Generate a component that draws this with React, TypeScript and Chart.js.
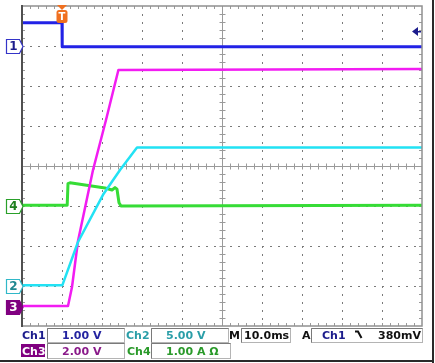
import React, { useEffect, useRef } from "react";
import { Chart, registerables } from "chart.js";
Chart.register(...registerables);

// Horizontal: 10 ms/div, trigger at 1 div from left (t = 0 ms)
const timePerDivMs = 10;
const triggerDiv = 1;
const xDivs = 10;
const yDivs = 8;

// Channel settings: volts (or amps) per division, ground marker position (div from bottom)
const ch1Scale = 1.0;
const ch2Scale = 5.0;
const ch3Scale = 2.0;
const ch4Scale = 1.0;
const ch1Ground = 7.0;
const ch2Ground = 1.0;
const ch3Ground = 0.475;
const ch4Ground = 3.0;

// Ch1 (blue) V
const ch1Time = [-10, 0, 0.05, 90];
const ch1Volts = [0.58, 0.58, -0.02, -0.02];

// Ch2 (cyan) V
const ch2Time = [-10, 0.1, 4, 10.25, 14.5, 18.75, 90];
const ch2Volts = [0.1, 0.1, 5.5, 11.4, 14.5, 17.3, 17.3];

// Ch3 (magenta) V
const ch3Time = [-10, 1.5, 2.5, 4, 7.75, 11, 14.1, 90];
const ch3Volts = [0.05, 0.05, 1.0, 3.3, 6.85, 9.35, 11.85, 11.9];

// Ch4 (green) A
const ch4Time = [-10, 1.3, 1.5, 2, 10.75, 12.5, 13.25, 13.75, 14.25, 14.75, 90];
const ch4Amps = [0.02, 0.02, 0.56, 0.58, 0.45, 0.4, 0.46, 0.42, 0.08, 0.0, 0.02];

const toPoints = (t: number[], v: number[], scale: number, ground: number) =>
  t.map((ti, i) => ({ x: ti / timePerDivMs + triggerDiv, y: ground + v[i] / scale }));

const FONT = "'DejaVu Sans', Verdana, sans-serif";

const scopePlugin = {
  id: "scope",
  beforeDraw(chart: any) {
    const { ctx, width, height } = chart;
    ctx.save();
    ctx.fillStyle = "#ffffff";
    ctx.fillRect(0, 0, width, height);
    ctx.restore();
  },
  beforeDatasetsDraw(chart: any) {
    const { ctx, chartArea: a } = chart;
    const dx = (a.right - a.left) / xDivs;
    const dy = (a.bottom - a.top) / yDivs;
    const step = dx / 5;
    ctx.save();
    // dotted grid
    ctx.fillStyle = "#7a7a7a";
    for (let k = 1; k < xDivs; k++) {
      if (k === xDivs / 2) continue;
      const x = Math.round(a.left + k * dx);
      for (let y = a.top + step; y < a.bottom - 1; y += step) ctx.fillRect(x, Math.round(y), 1, 2);
    }
    for (let k = 1; k < yDivs; k++) {
      if (k === yDivs / 2) continue;
      const y = Math.round(a.top + k * dy);
      for (let x = a.left + step; x < a.right - 1; x += step) ctx.fillRect(Math.round(x), y, 2, 1);
    }
    // center cross
    ctx.strokeStyle = "#9a9a9a";
    ctx.lineWidth = 1;
    const cx = Math.round(a.left + (xDivs / 2) * dx) + 0.5;
    const cy = Math.round(a.top + (yDivs / 2) * dy) + 0.5;
    ctx.beginPath();
    ctx.moveTo(cx, a.top);
    ctx.lineTo(cx, a.bottom);
    ctx.moveTo(a.left, cy);
    ctx.lineTo(a.right, cy);
    for (let x = a.left + step; x < a.right - 1; x += step) {
      const xx = Math.round(x) + 0.5;
      ctx.moveTo(xx, cy - 3);
      ctx.lineTo(xx, cy + 3);
    }
    for (let y = a.top + step; y < a.bottom - 1; y += step) {
      const yy = Math.round(y) + 0.5;
      ctx.moveTo(cx - 3, yy);
      ctx.lineTo(cx + 3, yy);
    }
    // edge ticks
    for (let x = a.left + step; x < a.right - 1; x += step) {
      const xx = Math.round(x) + 0.5;
      ctx.moveTo(xx, a.top);
      ctx.lineTo(xx, a.top + 3);
      ctx.moveTo(xx, a.bottom);
      ctx.lineTo(xx, a.bottom - 3);
    }
    for (let y = a.top + step; y < a.bottom - 1; y += step) {
      const yy = Math.round(y) + 0.5;
      ctx.moveTo(a.left, yy);
      ctx.lineTo(a.left + 3, yy);
      ctx.moveTo(a.right, yy);
      ctx.lineTo(a.right - 3, yy);
    }
    ctx.stroke();
    ctx.restore();
  },
  afterDatasetsDraw(chart: any) {
    const { ctx, chartArea: a, scales } = chart;
    const ys = scales.y;
    const xs = scales.x;
    ctx.save();
    // plot border
    ctx.strokeStyle = "#909090";
    ctx.lineWidth = 1.5;
    ctx.strokeRect(a.left, a.top, a.right - a.left, a.bottom - a.top);
    ctx.fillStyle = "#505050";
    ctx.fillRect(a.left - 1, a.top - 1, 2, a.bottom - a.top + 2);

    // outer shadow frame
    ctx.fillStyle = "#2a2a2a";
    ctx.fillRect(432, 0, 2, 363);
    ctx.fillRect(0, 360, 434, 2);

    // channel ground tags
    const tag = (yv: number, label: string, stroke: string, fill: string, txt: string) => {
      const y = Math.round(ys.getPixelForValue(yv)) + 0.5;
      ctx.beginPath();
      ctx.moveTo(6.5, y - 7);
      ctx.lineTo(19.5, y - 7);
      ctx.lineTo(23, y);
      ctx.lineTo(19.5, y + 7);
      ctx.lineTo(6.5, y + 7);
      ctx.closePath();
      ctx.fillStyle = fill;
      ctx.fill();
      ctx.strokeStyle = stroke;
      ctx.lineWidth = 1.2;
      ctx.stroke();
      ctx.fillStyle = txt;
      ctx.font = `bold 12px ${FONT}`;
      ctx.textAlign = "center";
      ctx.textBaseline = "middle";
      ctx.fillText(label, 13.5, y + 0.5);
    };
    tag(ch1Ground, "1", "#3434c8", "#ffffff", "#1c1c8c");
    tag(ch4Ground, "4", "#2aa02a", "#ffffff", "#1f801f");
    tag(ch2Ground, "2", "#30b8c8", "#ffffff", "#208890");
    tag(ch3Ground, "3", "#800080", "#800080", "#ffffff");

    // trigger position marker
    const tx = xs.getPixelForValue(triggerDiv);
    ctx.fillStyle = "#f07020";
    ctx.beginPath();
    ctx.moveTo(tx - 5, 5);
    ctx.lineTo(tx + 5, 5);
    ctx.lineTo(tx, 10);
    ctx.closePath();
    ctx.fill();
    ctx.beginPath();
    const rx = tx - 5.5, ry = 10, rw = 11, rh = 13, rr = 2.5;
    ctx.moveTo(rx + rr, ry);
    ctx.lineTo(rx + rw - rr, ry);
    ctx.quadraticCurveTo(rx + rw, ry, rx + rw, ry + rr);
    ctx.lineTo(rx + rw, ry + rh - rr);
    ctx.quadraticCurveTo(rx + rw, ry + rh, rx + rw - rr, ry + rh);
    ctx.lineTo(rx + rr, ry + rh);
    ctx.quadraticCurveTo(rx, ry + rh, rx, ry + rh - rr);
    ctx.lineTo(rx, ry + rr);
    ctx.quadraticCurveTo(rx, ry, rx + rr, ry);
    ctx.fill();
    ctx.fillStyle = "#ffffff";
    ctx.font = `bold 10px ${FONT}`;
    ctx.textAlign = "center";
    ctx.textBaseline = "middle";
    ctx.fillText("T", tx, 17);

    // trigger level arrow (380 mV on Ch1)
    const ly = Math.round(ys.getPixelForValue(ch1Ground + 0.38 / ch1Scale)) + 0.5;
    ctx.fillStyle = "#1c1c8c";
    ctx.beginPath();
    ctx.moveTo(412, ly);
    ctx.lineTo(418, ly - 4.5);
    ctx.lineTo(418, ly + 4.5);
    ctx.closePath();
    ctx.fill();
    ctx.fillRect(417, ly - 0.5, 4, 1.5);

    // bottom readout
    const box = (x: number, y: number, w: number, h: number) => {
      ctx.strokeStyle = "#b4b4b4";
      ctx.lineWidth = 1;
      ctx.strokeRect(x + 0.5, y + 0.5, w, h);
      ctx.strokeStyle = "#7a7a7a";
      ctx.beginPath();
      ctx.moveTo(x + 0.5, y + h + 0.5);
      ctx.lineTo(x + 0.5, y + 0.5);
      ctx.lineTo(x + w + 0.5, y + 0.5);
      ctx.stroke();
    };
    box(47, 328, 77, 14);
    box(151, 328, 77, 14);
    box(241, 328, 49, 14);
    box(311, 328, 111, 14);
    box(47, 343, 77, 15);
    box(151, 343, 79, 15);

    ctx.fillStyle = "#800080";
    ctx.fillRect(21, 344, 24, 13);

    ctx.font = `bold 11px ${FONT}`;
    ctx.textAlign = "left";
    ctx.textBaseline = "alphabetic";
    const txt = (s: string, x: number, y: number, c: string) => {
      ctx.fillStyle = c;
      ctx.fillText(s, x, y);
    };
    txt("Ch1", 22, 339, "#1c1c8c");
    txt("1.00 V", 62, 339, "#2424a0");
    txt("Ch2", 126, 339, "#2a9ea8");
    txt("5.00 V", 166, 339, "#2a9ea8");
    txt("M", 229, 339, "#111111");
    txt("10.0ms", 244, 339, "#111111");
    txt("A", 302, 339, "#111111");
    txt("Ch1", 322, 339, "#1c1c8c");
    ctx.textAlign = "right";
    txt("380mV", 421, 339, "#111111");
    ctx.textAlign = "left";
    txt("Ch3", 22, 355, "#ffffff");
    txt("2.00 V", 62, 355, "#8a1a8a");
    txt("Ch4", 127, 355, "#2a9a2a");
    txt("1.00 A \u03A9", 166, 355, "#2a9a2a");

    // falling edge slope symbol
    ctx.strokeStyle = "#111111";
    ctx.lineWidth = 2;
    ctx.beginPath();
    ctx.moveTo(355, 331.5);
    ctx.lineTo(358, 331.5);
    ctx.lineTo(361.5, 338);
    ctx.stroke();
    ctx.restore();
  },
};

export default function App() {
  const ref = useRef<HTMLCanvasElement | null>(null);
  useEffect(() => {
    if (!ref.current) return;
    const mk = (label: string, data: any[], color: string, w: number) => ({
      label,
      data,
      borderColor: color,
      backgroundColor: color,
      borderWidth: w,
      pointRadius: 0,
      tension: 0,
      fill: false,
      borderJoinStyle: "round" as const,
    });
    const chart = new Chart(ref.current, {
      type: "line",
      data: {
        datasets: [
          mk("Ch1", toPoints(ch1Time, ch1Volts, ch1Scale, ch1Ground), "#2222e6", 3),
          mk("Ch2", toPoints(ch2Time, ch2Volts, ch2Scale, ch2Ground), "#22e2f4", 2.5),
          mk("Ch3", toPoints(ch3Time, ch3Volts, ch3Scale, ch3Ground), "#f21cf2", 2.5),
          mk("Ch4", toPoints(ch4Time, ch4Amps, ch4Scale, ch4Ground), "#36dc36", 3),
        ],
      },
      options: {
        responsive: false,
        animation: false,
        events: [],
        layout: { padding: { left: 22, top: 6, right: 13, bottom: 37 } },
        plugins: { legend: { display: false }, tooltip: { enabled: false } },
        scales: {
          x: { type: "linear", min: 0, max: xDivs, display: false },
          y: { type: "linear", min: 0, max: yDivs, display: false },
        },
      },
      plugins: [scopePlugin],
    });
    return () => chart.destroy();
  }, []);
  return (
    <div style={{ position: "absolute", left: 0, top: 0, width: 435, height: 363 }}>
      <canvas ref={ref} width={435} height={363} style={{ display: "block" }} />
    </div>
  );
}
